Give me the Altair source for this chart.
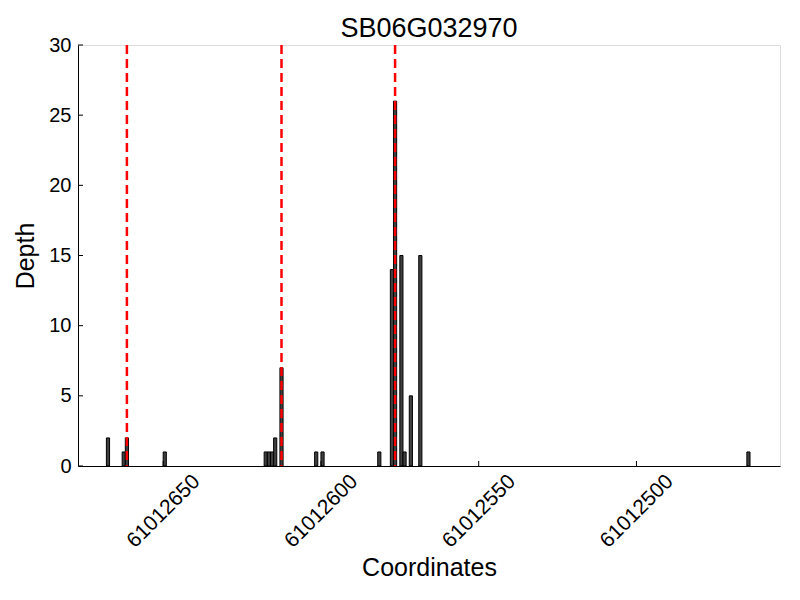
import altair as alt
import pandas as pd

# Bar start coordinates (each bar spans one base: [start, start+1]) and depths
positions = [61012667, 61012662, 61012661, 61012649,
             61012617, 61012616, 61012615, 61012614, 61012612,
             61012601, 61012599,
             61012581, 61012577, 61012576, 61012574, 61012573, 61012571, 61012568,
             61012464]
depths = [2, 1, 2, 1,
          1, 1, 1, 2, 7,
          1, 1,
          1, 14, 26, 15, 1, 5, 15,
          1]
# Dashed red marker positions
markers = [61012661.5, 61012612.5, 61012576.5]
# Axis ticks
x_ticks = [61012650, 61012600, 61012550, 61012500]
y_ticks = [0, 5, 10, 15, 20, 25, 30]
x_domain = [61012454.5, 61012677]
y_domain = [0, 30]

W, H = 702, 421
FONT = "Liberation Sans"

bars_df = pd.DataFrame({"start": positions, "depth": depths})
bars_df["end"] = bars_df["start"] + 1
bars_df["base"] = 0
mark_df = pd.DataFrame({"pos": markers})
xt_df = pd.DataFrame({"v": x_ticks})
yt_df = pd.DataFrame({"v": y_ticks})

xscale = alt.Scale(domain=x_domain, reverse=True, nice=False, zero=False)
yscale = alt.Scale(domain=y_domain, nice=False)

xaxis = alt.Axis(values=x_ticks, format="d", labelAngle=-45, labelAlign="center",
                 labelBaseline="middle", labelPadding=45, ticks=False, tickSize=0,
                 grid=False, labelFontSize=21, labelFont=FONT, labelColor="black",
                 title="Coordinates", titleFontSize=25, titleFont=FONT,
                 titleFontWeight="normal", titleColor="black", titlePadding=4,
                 domainColor="black", labelOverlap=False, labelFlush=False)
yaxis = alt.Axis(values=y_ticks, labelPadding=7, ticks=False, tickSize=0, grid=False,
                 labelFontSize=20, labelFont=FONT, labelColor="black",
                 title="Depth", titleFontSize=25, titleFont=FONT,
                 titleFontWeight="normal", titleColor="black", titlePadding=10,
                 domainColor="black", labelFlush=False)

bars = alt.Chart(bars_df).mark_bar(fill="#404040", stroke="black", strokeWidth=1).encode(
    x=alt.X("start:Q", scale=xscale, axis=xaxis),
    x2="end:Q",
    y=alt.Y("depth:Q", scale=yscale, axis=yaxis),
    y2="base:Q",
)

rules = alt.Chart(mark_df).mark_rule(color="red", strokeWidth=2.5, strokeDash=[9, 5]).encode(
    x=alt.X("pos:Q", scale=xscale),
    y=alt.value(0), y2=alt.value(H),
)

ytick = alt.Chart(yt_df).mark_rule(color="black", strokeWidth=1).encode(
    y=alt.Y("v:Q", scale=yscale), x=alt.value(0), x2=alt.value(5)
)
xtick = alt.Chart(xt_df).mark_rule(color="black", strokeWidth=1).encode(
    x=alt.X("v:Q", scale=xscale), y=alt.value(H), y2=alt.value(H - 5)
)

chart = alt.layer(bars, rules, ytick, xtick).properties(
    width=W, height=H,
    title=alt.TitleParams("SB06G032970", fontSize=27, font=FONT, fontWeight="normal",
                          color="black", anchor="middle", offset=-8),
    autosize=alt.AutoSizeParams(type="none"),
    padding={"left": 70, "top": 37, "right": 12, "bottom": 125},
).configure_view(stroke=None).configure(background="white")

chart.save("out.html", embed_options={"renderer": "svg", "actions": False})
